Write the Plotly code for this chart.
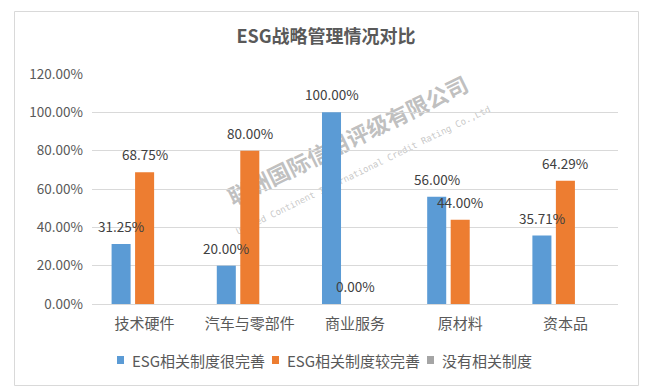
import plotly.graph_objects as go

# ---------------- data ----------------
categories = ["技术硬件", "汽车与零部件", "商业服务", "原材料", "资本品"]
series_names = ["ESG相关制度很完善", "ESG相关制度较完善", "没有相关制度"]
very_complete = [0.3125, 0.2000, 1.0000, 0.5600, 0.3571]
fairly_complete = [0.6875, 0.8000, 0.0000, 0.4400, 0.6429]
no_system = [0.0, 0.0, 0.0, 0.0, 0.0]
y_tick_values = [0.0, 0.2, 0.4, 0.6, 0.8, 1.0, 1.2]
y_tick_labels = ["0.00%", "20.00%", "40.00%", "60.00%", "80.00%", "100.00%", "120.00%"]
title_text = "ESG战略管理情况对比"
watermark_cn = "联洲国际信用评级有限公司"
watermark_en = "United Continent International Credit Rating Co.,Ltd"

# ---------------- style / geometry ----------------
W, H = 652, 391
PL, PR, PT, PB = 92, 618, 74, 304  # plot area in pixels
COLORS = ["#5B9BD5", "#ED7D31", "#A5A5A5"]
TEXT = "#595959"
GRID = "#D9D9D9"
FONT = "Noto Sans CJK SC"
SLOT_PX = 23.5  # horizontal distance between bars within a group
LEGEND_SQUARE_X = [117, 272, 427]  # legend swatch left edges (px)
LEGEND_Y = 360


def px_x(px):
    return (px - PL) / (PR - PL)


def px_y(py):
    return (PB - py) / (PB - PT)


fig = go.Figure()
all_series = [very_complete, fairly_complete, no_system]
for name, vals, col in zip(series_names, all_series, COLORS):
    fig.add_trace(go.Bar(
        x=categories, y=vals, name=name,
        marker=dict(color=col, line=dict(width=0)),
    ))

# data labels (only the first two series show labels)
annotations = []
for i, vals in enumerate(all_series[:2]):
    for c, v in zip(categories, vals):
        annotations.append(dict(
            x=c, y=v, xref="x", yref="y",
            text=f"{v*100:.2f}%", showarrow=False,
            xshift=(i - 1) * SLOT_PX, yshift=18,
            yanchor="middle", xanchor="center",
            font=dict(family=FONT, size=13.5, color="#404040"),
        ))

shapes = [
    # outer chart border
    dict(type="rect", xref="paper", yref="paper",
         x0=px_x(14.5), x1=px_x(638.5), y0=px_y(385.5), y1=px_y(11.5),
         line=dict(color=GRID, width=1), fillcolor="rgba(0,0,0,0)", layer="below"),
    # watermark (drawn beneath the bars)
    dict(type="line", xref="paper", yref="paper",
         x0=px_x(228), y0=px_y(222), x1=px_x(484), y1=px_y(98),
         line=dict(color="rgba(0,0,0,0)", width=0), layer="below",
         label=dict(text=f"<b>{watermark_cn}</b>", textangle=-26, textposition="middle",
                    font=dict(family=FONT, size=22, color="rgba(175,175,175,0.8)"))),
    dict(type="line", xref="paper", yref="paper",
         x0=px_x(243), y0=px_y(237), x1=px_x(487), y1=px_y(117),
         line=dict(color="rgba(0,0,0,0)", width=0), layer="below",
         label=dict(text=watermark_en, textangle=-26, textposition="middle",
                    font=dict(family="DejaVu Sans Mono", size=9, color="rgba(185,185,185,0.8)"))),
]

# legend (Excel-style compact: small square swatch + text)
for name, col, sx in zip(series_names, COLORS, LEGEND_SQUARE_X):
    shapes.append(dict(type="rect", xref="paper", yref="paper",
                       x0=px_x(sx), x1=px_x(sx + 7), y0=px_y(LEGEND_Y + 4), y1=px_y(LEGEND_Y - 4),
                       line=dict(width=0), fillcolor=col))
    annotations.append(dict(x=px_x(sx + 13), y=px_y(LEGEND_Y), xref="paper", yref="paper",
                            text=name, showarrow=False, xanchor="left", yanchor="middle",
                            font=dict(family=FONT, size=15, color=TEXT)))

fig.update_layout(
    width=W, height=H,
    margin=dict(l=PL, r=W - PR, t=PT, b=H - PB, autoexpand=False),
    paper_bgcolor="white", plot_bgcolor="white",
    barmode="group", bargap=0.33, bargroupgap=0.19,
    font=dict(family=FONT, color=TEXT),
    title=dict(text=f"<b>{title_text}</b>", x=0.5, xanchor="center",
               y=1 - 37 / H, yanchor="middle",
               font=dict(family=FONT, size=18, color=TEXT)),
    annotations=annotations,
    shapes=shapes,
    showlegend=False,
)
fig.update_yaxes(range=[0, 1.2], tickvals=y_tick_values, ticktext=y_tick_labels,
                 showgrid=True, gridcolor=GRID, gridwidth=1, zeroline=False,
                 showline=False, ticks="", ticklabelstandoff=8,
                 tickfont=dict(family=FONT, size=13.5, color=TEXT))
fig.update_xaxes(showgrid=False, showline=True, linecolor=GRID, linewidth=1,
                 ticks="", ticklabelstandoff=6,
                 tickfont=dict(family=FONT, size=15, color=TEXT))

fig.write_html(
    "out.html",
    config={"displayModeBar": False},
    post_script="document.body.style.margin='0px';document.body.style.padding='0px';",
)
